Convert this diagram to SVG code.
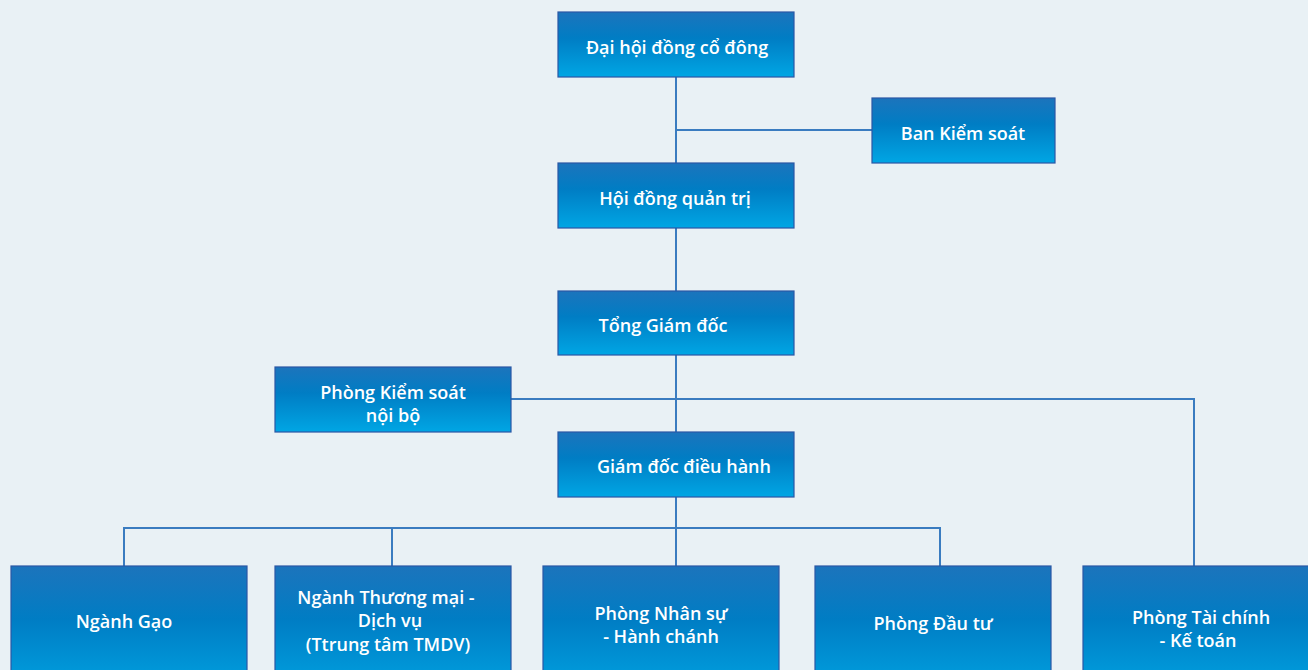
<svg xmlns="http://www.w3.org/2000/svg" width="1308" height="670" viewBox="0 0 1308 670">
<defs>
<linearGradient id="g" x1="0" y1="0" x2="0" y2="1">
<stop offset="0" stop-color="#1c74bc"/>
<stop offset="0.4" stop-color="#007dc4"/>
<stop offset="1" stop-color="#00a6e4"/>
</linearGradient>
<linearGradient id="g2" x1="0" x2="0" gradientUnits="userSpaceOnUse" y1="566" y2="700">
<stop offset="0" stop-color="#1c74bc"/>
<stop offset="0.4" stop-color="#007dc4"/>
<stop offset="1" stop-color="#00a6e4"/>
</linearGradient>
</defs>
<style>
.b{fill:url(#g);stroke:#2a57a5;stroke-width:1.2}
.b2{fill:url(#g2);stroke:#2a57a5;stroke-width:1.2}
.t{fill:#fff;font-family:"Open Sans","Noto Sans",sans-serif;font-weight:600;font-size:18px;text-anchor:middle}
.c{fill:none;stroke:#3a7cc0;stroke-width:2}
</style>
<rect width="1308" height="670" fill="#e9f1f5"/>
<g id="connectors">
<path class="c" d="M676 77V566M676 130H872M511 399H1194V566M124 566V528H940V566M392 528V566"/>
</g>
<g id="n1"><rect class="b" x="558" y="12" width="236" height="65"/><text class="t" x="677" y="54">Đại hội đồng cổ đông</text></g>
<g id="n2"><rect class="b" x="872" y="98" width="183" height="65"/><text class="t" x="963" y="140">Ban Kiểm soát</text></g>
<g id="n3"><rect class="b" x="558" y="163" width="236" height="65"/><text class="t" x="675" y="205">Hội đồng quản trị</text></g>
<g id="n4"><rect class="b" x="558" y="291" width="236" height="64"/><text class="t" x="663" y="332">Tổng Giám đốc</text></g>
<g id="n5"><rect class="b" x="275" y="367" width="236" height="65"/><text class="t" x="393" y="399">Phòng Kiểm soát</text><text class="t" x="393" y="422">nội bộ</text></g>
<g id="n6"><rect class="b" x="558" y="432" width="236" height="65"/><text class="t" x="684" y="473">Giám đốc điều hành</text></g>
<g id="n7"><rect class="b2" x="11" y="566" width="236" height="110"/><text class="t" x="124" y="628">Ngành Gạo</text></g>
<g id="n8"><rect class="b2" x="275" y="566" width="236" height="110"/><text class="t" x="386" y="604">Ngành Thương mại -</text><text class="t" x="390" y="627">Dịch vụ</text><text class="t" x="388" y="651">(Ttrung tâm TMDV)</text></g>
<g id="n9"><rect class="b2" x="543" y="566" width="236" height="110"/><text class="t" x="661" y="620">Phòng Nhân sự</text><text class="t" x="661" y="643">- Hành chánh</text></g>
<g id="n10"><rect class="b2" x="815" y="566" width="236" height="110"/><text class="t" x="933" y="630">Phòng Đầu tư</text></g>
<g id="n11"><rect class="b2" x="1083" y="566" width="236" height="110"/><text class="t" x="1201" y="624">Phòng Tài chính</text><text class="t" x="1198" y="647">- Kế toán</text></g>
</svg>
